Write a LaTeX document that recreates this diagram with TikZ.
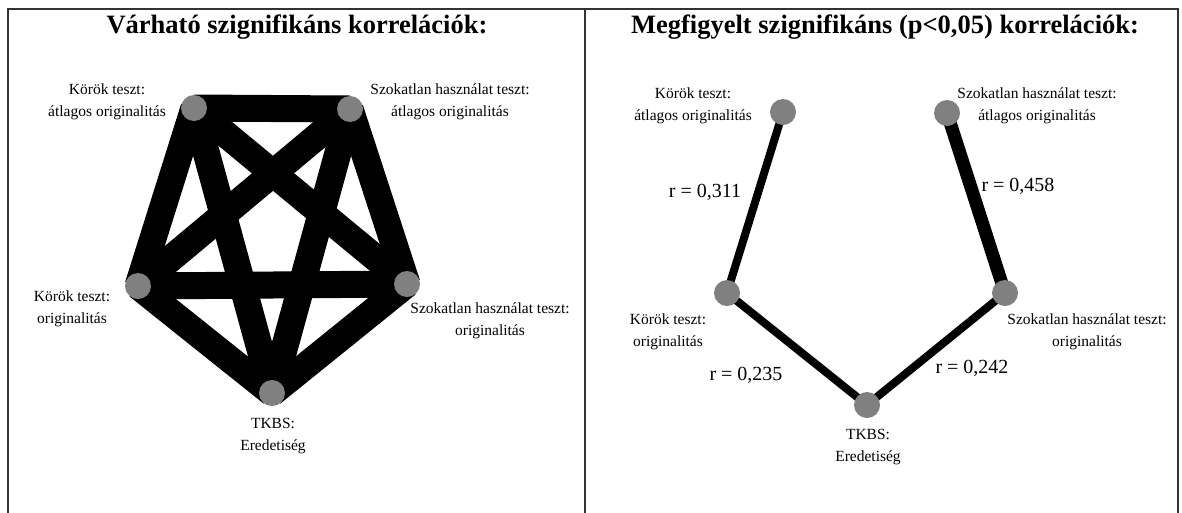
\documentclass[tikz,border=0pt]{standalone}
\usepackage{fontspec}
\setmainfont{Liberation Serif}
\usetikzlibrary{backgrounds}

\begin{document}
\begin{tikzpicture}[x=1pt, y=-1pt, font=\fontsize{15.5}{22}\selectfont,
  vertex/.style={circle, fill=gray, minimum size=26pt, inner sep=0pt},
  lbl/.style={align=center, inner sep=0pt},
  rval/.style={font=\fontsize{20}{24}\selectfont, inner sep=0pt},
  title/.style={font=\fontsize{26.5}{30}\selectfont\bfseries, inner sep=0pt}]
  \useasboundingbox (0,0) rectangle (1182,512);
  % frame: two panels side by side, bottom edge off the page
  \draw[line width=1.6pt, black!80] (8,514) -- (8,9) -- (1178,9) -- (1178,514);
  \draw[line width=1.6pt, black!80] (585,9) -- (585,514);
  % (a) expected: every pair of the five measures correlates
  \begin{scope}
    \node[title] (ltitle) at (297,27) {Várható szignifikáns korrelációk:};
    \node[vertex] (lTL) at (194,108) {};
    \node[vertex] (lTR) at (350,109) {};
    \node[vertex] (lML) at (138,286) {};
    \node[vertex] (lMR) at (407,284) {};
    \node[vertex] (lB)  at (272,393) {};
    \begin{scope}[on background layer]
      \foreach \a/\b in {lTL/lTR, lTL/lML, lTL/lMR, lTL/lB, lTR/lML,
                         lTR/lMR, lTR/lB, lML/lMR, lML/lB, lMR/lB}
        \draw[line width=27pt] (\a.center) -- (\b.center);
    \end{scope}
    \node[lbl] (lTLt) at (107,102) {Körök teszt:\\átlagos originalitás};
    \node[lbl] (lTRt) at (450,102) {Szokatlan használat teszt:\\átlagos originalitás};
    \node[lbl] (lMLt) at (72,309)  {Körök teszt:\\originalitás};
    \node[lbl] (lMRt) at (490,321) {Szokatlan használat teszt:\\originalitás};
    \node[lbl] (lBt)  at (273,436) {TKBS:\\Eredetiség};
  \end{scope}
  % (b) observed: only four of the pairs reach p<0,05
  \begin{scope}
    \node[title] (rtitle) at (885,27) {Megfigyelt szignifikáns (p<0,05) korrelációk:};
    \node[vertex] (rTL) at (783,112) {};
    \node[vertex] (rTR) at (947,113) {};
    \node[vertex] (rML) at (727,293) {};
    \node[vertex] (rMR) at (1005,293) {};
    \node[vertex] (rB)  at (867,405) {};
    \begin{scope}[on background layer]
      \draw[line width=8pt]  (rTL.center) -- (rML.center);
      \draw[line width=13pt] (rTR.center) -- (rMR.center);
      \draw[line width=8pt]  (rML.center) -- (rB.center);
      \draw[line width=8pt]  (rB.center) -- (rMR.center);
    \end{scope}
    \node[lbl] (rTLt) at (693,106) {Körök teszt:\\átlagos originalitás};
    \node[lbl] (rTRt) at (1037,106) {Szokatlan használat teszt:\\átlagos originalitás};
    \node[lbl] (rMLt) at (668,332) {Körök teszt:\\originalitás};
    \node[lbl] (rMRt) at (1087,332) {Szokatlan használat teszt:\\originalitás};
    \node[lbl] (rBt)  at (868,447) {TKBS:\\Eredetiség};
    \node[rval] (r1) at (705,192) {r = 0,311};
    \node[rval] (r2) at (1018,186) {r = 0,458};
    \node[rval] (r3) at (746,375) {r = 0,235};
    \node[rval] (r4) at (972,368) {r = 0,242};
  \end{scope}
\end{tikzpicture}
\end{document}
